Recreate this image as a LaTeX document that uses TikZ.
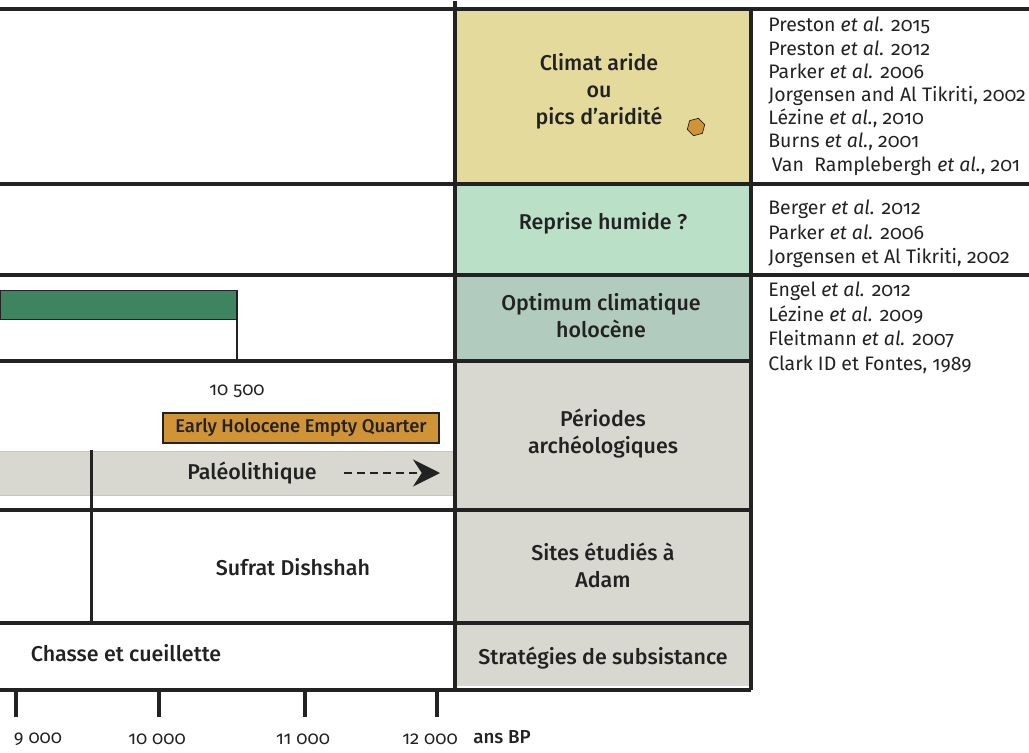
\documentclass[tikz,border=0pt]{standalone}
\usepackage{fontspec}
\setmainfont{Fira Sans}[Numbers=OldStyle]
\newfontfamily\moyen{Fira Sans Medium}[Numbers=OldStyle]
\usetikzlibrary{positioning,arrows.meta,shapes.geometric}
\definecolor{aride}{HTML}{E4DA9B}
\definecolor{humide}{HTML}{BAE0C8}
\definecolor{optimum}{HTML}{B1CBBE}
\definecolor{grisclair}{HTML}{D8D8D1}
\definecolor{vertfonce}{HTML}{3F8461}
\definecolor{ocre}{HTML}{D09336}
\definecolor{trait}{HTML}{222222}

\begin{document}
\begin{tikzpicture}[x=0.2mm, y=-0.2mm,
  case/.style={minimum width=59.2mm, inner sep=0pt, outer sep=0pt},
  etiquette/.style={font=\moyen\fontsize{12.2}{15.4}\selectfont, align=center,
    text=trait},
  reference/.style={font=\fontsize{11.1}{13.2}\selectfont, align=left,
    anchor=north west, inner sep=0pt, text=trait},
  grand/.style={line width=0.85mm, draw=trait},
  annee/.style={font=\fontsize{10.5}{12}\selectfont, text=trait}
]
\useasboundingbox (0,0) rectangle (1029,753);
% Colonne des themes
\node[case, fill=aride, minimum height=35mm] (aride) at (603,96.5) {};
\node[case, fill=humide, minimum height=18.2mm] (humide) at (603,229.5) {};
\node[case, fill=optimum, minimum height=17.2mm] (optimum) at (603,318) {};
\node[case, fill=grisclair, minimum height=29.8mm] (periodes) at (603,435.5) {};
\node[case, fill=grisclair, minimum height=22.6mm] (sites) at (603,566.5) {};
\node[case, fill=grisclair, minimum height=12.6mm] (strategies) at (603,654.5) {};
% Bandes de la frise
\node[fill=grisclair, minimum width=91mm, minimum height=8.8mm, inner sep=0pt,
  anchor=north west] (bande) at (0,451) {};
\draw[gray!45, line width=0.4pt] (bande.north west) -- (bande.north east)
  (bande.south west) -- (bande.south east);
\node[fill=vertfonce, draw=trait, line width=0.3pt, minimum width=47.4mm,
  minimum height=5.8mm, inner sep=0pt, anchor=north west] (holocene) at (0,290) {};
% Grille
\draw[grand] (0,9) -- (1029,9);
\draw[grand] (0,184) -- (1029,184);
\draw[grand] (0,275) -- (1029,275);
\draw[grand] (0,361) -- (751,361);
\draw[grand] (0,510) -- (751,510);
\draw[grand] (0,623) -- (751,623);
\draw[grand] (0,690) -- (751,690);
\draw[grand] (455,1) -- (455,690);
\draw[grand] (751,9) -- (751,690);
\draw[trait, line width=0.6mm] (91,450) -- (91,623);
\draw[trait, line width=0.5mm] (237,290) -- (237,361);
% Textes des themes
\node[etiquette] (t-aride) at (599,91) {Climat aride\\ou\\pics d’aridité};
\node[regular polygon, regular polygon sides=6, rotate=15, fill=ocre, draw=trait,
  line width=0.4pt, minimum size=3.6mm, inner sep=0pt] (pic) at (696,127) {};
\node[etiquette] (t-humide) at (603,223) {Reprise humide ?};
\node[etiquette] (t-optimum) at (601,316) {Optimum climatique\\holocène};
\node[etiquette] (t-periodes) at (603,434) {Périodes\\archéologiques};
\node[etiquette] (t-sites) at (603,565.5) {Sites étudiés à\\Adam};
\node[etiquette] (t-strategies) at (603,658) {Stratégies de subsistance};
% References
\node[reference] (ref-aride) at (768,17) {Preston \textit{et al.} 2015\\
Preston \textit{et al.} 2012\\ Parker \textit{et al.} 2006\\
Jorgensen and Al Tikriti, 2002\\ Lézine \textit{et al.}, 2010\\
Burns \textit{et al.}, 2001\\ \hspace{2pt}Van~~Ramplebergh \textit{et al.}, 201};
\node[reference, font=\fontsize{11.1}{13.9}\selectfont] (ref-humide) at (768,200)
  {Berger \textit{et al.} 2012\\ Parker \textit{et al.} 2006\\
Jorgensen et Al Tikriti, 2002};
\node[reference, font=\fontsize{11.1}{13.9}\selectfont] (ref-optimum) at (768,282)
  {Engel \textit{et al.} 2012\\ Lézine \textit{et al.} 2009\\
Fleitmann \textit{et al.} 2007\\ Clark ID et Fontes, 1989};
% Frise chronologique
\node[annee] (an-10500) at (237,391) {10 500};
\node[fill=ocre, draw=trait, line width=0.4mm, minimum width=55.2mm,
  minimum height=6mm, inner sep=0pt, text=trait,
  font=\moyen\fontsize{10.5}{12}\selectfont] (vide) at (301,428)
  {Early Holocene Empty Quarter};
\node[etiquette] (paleo) at (252,473) {Paléolithique};
\coordinate (fleche-debut) at (344,473);
\coordinate (fleche-fin) at (440,473);
\draw[trait, line width=1.1pt, dash pattern=on 1.6mm off 1mm,
  -{Stealth[length=5.4mm, width=5.4mm]}] (fleche-debut) -- (fleche-fin);
\node[etiquette] (sufrat) at (293,567) {Sufrat Dishshah};
\node[etiquette] (chasse) at (126,653) {Chasse et cueillette};
% Axe des ages
\foreach \x/\lx/\t in {16/38/{9 000}, 159/157/{10 000}, 305/303/{11 000},
  437/430/{12 000}}{
  \draw[trait, line width=0.8mm] (\x,690) -- (\x,717);
  \node[annee] (an-\x) at (\lx,739) {\t};
}
\node[font=\moyen\fontsize{10.7}{12}\selectfont, text=trait] (bp) at (502,737)
  {ans BP};
\end{tikzpicture}
\end{document}
